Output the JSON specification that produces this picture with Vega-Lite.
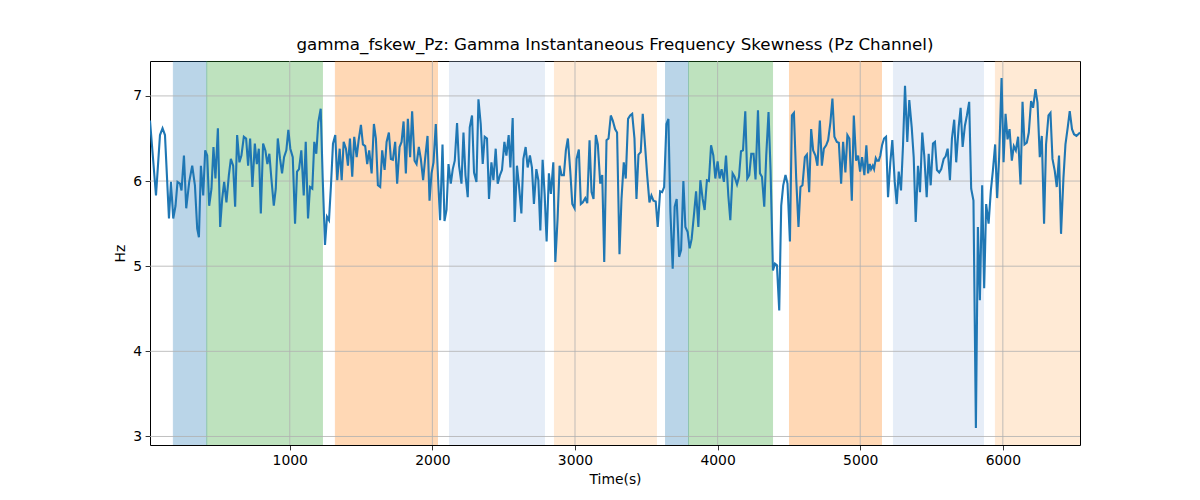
{
  "$schema": "https://vega.github.io/schema/vega-lite/v6.json",
  "width": 930,
  "height": 384,
  "autosize": {"type": "none"},
  "padding": {"left": 150, "top": 61, "right": 120, "bottom": 55},
  "background": "white",
  "title": {
    "text": "gamma_fskew_Pz: Gamma Instantaneous Frequency Skewness (Pz Channel)",
    "fontSize": 16.7,
    "fontWeight": "normal",
    "color": "black",
    "offset": 7
  },
  "config": {
    "font": "DejaVu Sans",
    "view": {"stroke": "black", "strokeWidth": 1},
    "axis": {
      "domain": false,
      "grid": false,
      "tickColor": "black",
      "tickSize": 4.9,
      "tickWidth": 0.8,
      "labelColor": "black",
      "labelFontSize": 13.9,
      "labelPadding": 3.5,
      "titleColor": "black",
      "titleFontSize": 13.9,
      "titleFontWeight": "normal",
      "titlePadding": 5
    }
  },
  "datasets": {
    "bands": [
      {"start": 184, "end": 418, "kind": "A"},
      {"start": 418, "end": 1229, "kind": "B"},
      {"start": 1320, "end": 2036, "kind": "C"},
      {"start": 2120, "end": 2786, "kind": "D"},
      {"start": 2856, "end": 3571, "kind": "E"},
      {"start": 3635, "end": 3796, "kind": "A"},
      {"start": 3796, "end": 4385, "kind": "B"},
      {"start": 4504, "end": 5149, "kind": "C"},
      {"start": 5233, "end": 5864, "kind": "D"},
      {"start": 5948, "end": 6541, "kind": "E"}
    ],
    "xgrid": [{"g": 1000}, {"g": 2000}, {"g": 3000}, {"g": 4000}, {"g": 5000}, {"g": 6000}],
    "ygrid": [{"g": 3}, {"g": 4}, {"g": 5}, {"g": 6}, {"g": 7}],
    "signal": [
      {"t": 20, "hz": 6.71}, {"t": 62, "hz": 5.83}, {"t": 90, "hz": 6.54}, {"t": 108, "hz": 6.62},
      {"t": 125, "hz": 6.54}, {"t": 153, "hz": 5.56}, {"t": 167, "hz": 5.99}, {"t": 183, "hz": 5.56},
      {"t": 199, "hz": 5.71}, {"t": 213, "hz": 5.99}, {"t": 230, "hz": 5.97}, {"t": 241, "hz": 5.89},
      {"t": 258, "hz": 6.30}, {"t": 274, "hz": 5.68}, {"t": 295, "hz": 5.99}, {"t": 316, "hz": 6.18},
      {"t": 335, "hz": 5.95}, {"t": 351, "hz": 5.44}, {"t": 363, "hz": 5.34}, {"t": 377, "hz": 6.18},
      {"t": 393, "hz": 5.83}, {"t": 407, "hz": 6.36}, {"t": 421, "hz": 6.30}, {"t": 435, "hz": 5.71},
      {"t": 451, "hz": 5.91}, {"t": 465, "hz": 6.40}, {"t": 479, "hz": 6.03}, {"t": 496, "hz": 6.62},
      {"t": 512, "hz": 5.46}, {"t": 526, "hz": 5.79}, {"t": 540, "hz": 5.99}, {"t": 556, "hz": 5.75},
      {"t": 573, "hz": 6.07}, {"t": 587, "hz": 6.26}, {"t": 603, "hz": 6.18}, {"t": 617, "hz": 5.70},
      {"t": 631, "hz": 6.54}, {"t": 647, "hz": 6.22}, {"t": 661, "hz": 6.30}, {"t": 678, "hz": 6.52},
      {"t": 694, "hz": 6.50}, {"t": 708, "hz": 6.18}, {"t": 722, "hz": 6.50}, {"t": 738, "hz": 5.93},
      {"t": 755, "hz": 6.44}, {"t": 769, "hz": 6.20}, {"t": 783, "hz": 6.38}, {"t": 797, "hz": 5.62},
      {"t": 813, "hz": 6.44}, {"t": 829, "hz": 6.36}, {"t": 843, "hz": 6.20}, {"t": 857, "hz": 6.32},
      {"t": 871, "hz": 6.03}, {"t": 888, "hz": 5.71}, {"t": 902, "hz": 5.91}, {"t": 916, "hz": 6.50},
      {"t": 932, "hz": 6.26}, {"t": 946, "hz": 6.09}, {"t": 960, "hz": 6.28}, {"t": 976, "hz": 6.36},
      {"t": 990, "hz": 6.60}, {"t": 1004, "hz": 6.38}, {"t": 1021, "hz": 6.28}, {"t": 1037, "hz": 5.50},
      {"t": 1051, "hz": 6.11}, {"t": 1065, "hz": 6.14}, {"t": 1081, "hz": 6.36}, {"t": 1098, "hz": 5.83},
      {"t": 1112, "hz": 6.46}, {"t": 1128, "hz": 5.56}, {"t": 1142, "hz": 5.93}, {"t": 1158, "hz": 5.91},
      {"t": 1172, "hz": 6.46}, {"t": 1186, "hz": 6.32}, {"t": 1200, "hz": 6.69}, {"t": 1217, "hz": 6.85},
      {"t": 1231, "hz": 6.03}, {"t": 1247, "hz": 5.25}, {"t": 1261, "hz": 5.58}, {"t": 1275, "hz": 5.54},
      {"t": 1289, "hz": 5.95}, {"t": 1303, "hz": 6.44}, {"t": 1319, "hz": 6.54}, {"t": 1333, "hz": 6.01},
      {"t": 1350, "hz": 6.38}, {"t": 1364, "hz": 6.01}, {"t": 1378, "hz": 6.46}, {"t": 1394, "hz": 6.38},
      {"t": 1408, "hz": 6.18}, {"t": 1422, "hz": 6.50}, {"t": 1438, "hz": 6.05}, {"t": 1452, "hz": 6.52},
      {"t": 1469, "hz": 6.28}, {"t": 1483, "hz": 6.48}, {"t": 1499, "hz": 6.66}, {"t": 1513, "hz": 6.43},
      {"t": 1529, "hz": 6.41}, {"t": 1543, "hz": 6.20}, {"t": 1557, "hz": 6.36}, {"t": 1574, "hz": 6.09},
      {"t": 1590, "hz": 6.67}, {"t": 1604, "hz": 6.50}, {"t": 1618, "hz": 5.95}, {"t": 1634, "hz": 5.93},
      {"t": 1648, "hz": 6.36}, {"t": 1665, "hz": 6.13}, {"t": 1679, "hz": 6.46}, {"t": 1695, "hz": 6.57},
      {"t": 1709, "hz": 6.26}, {"t": 1723, "hz": 6.25}, {"t": 1739, "hz": 6.46}, {"t": 1753, "hz": 5.97},
      {"t": 1770, "hz": 6.40}, {"t": 1784, "hz": 6.46}, {"t": 1798, "hz": 6.70}, {"t": 1814, "hz": 6.09},
      {"t": 1828, "hz": 6.73}, {"t": 1844, "hz": 6.28}, {"t": 1858, "hz": 6.82}, {"t": 1875, "hz": 6.24},
      {"t": 1889, "hz": 6.20}, {"t": 1905, "hz": 6.40}, {"t": 1919, "hz": 6.26}, {"t": 1935, "hz": 6.01},
      {"t": 1949, "hz": 6.26}, {"t": 1966, "hz": 6.53}, {"t": 1980, "hz": 5.77}, {"t": 1994, "hz": 6.09},
      {"t": 2008, "hz": 6.22}, {"t": 2024, "hz": 6.67}, {"t": 2040, "hz": 6.03}, {"t": 2054, "hz": 5.54},
      {"t": 2071, "hz": 6.43}, {"t": 2085, "hz": 5.53}, {"t": 2099, "hz": 5.66}, {"t": 2113, "hz": 6.20},
      {"t": 2129, "hz": 5.97}, {"t": 2143, "hz": 6.14}, {"t": 2157, "hz": 6.24}, {"t": 2173, "hz": 6.68},
      {"t": 2187, "hz": 6.18}, {"t": 2204, "hz": 5.97}, {"t": 2218, "hz": 6.57}, {"t": 2232, "hz": 6.07},
      {"t": 2248, "hz": 5.81}, {"t": 2262, "hz": 6.63}, {"t": 2278, "hz": 6.77}, {"t": 2292, "hz": 6.10},
      {"t": 2309, "hz": 5.99}, {"t": 2323, "hz": 6.96}, {"t": 2339, "hz": 6.67}, {"t": 2353, "hz": 6.20},
      {"t": 2367, "hz": 6.52}, {"t": 2383, "hz": 6.50}, {"t": 2397, "hz": 5.79}, {"t": 2414, "hz": 6.22},
      {"t": 2428, "hz": 6.01}, {"t": 2444, "hz": 6.38}, {"t": 2458, "hz": 5.97}, {"t": 2474, "hz": 6.07},
      {"t": 2488, "hz": 6.13}, {"t": 2505, "hz": 6.46}, {"t": 2519, "hz": 6.30}, {"t": 2535, "hz": 6.54},
      {"t": 2547, "hz": 6.16}, {"t": 2563, "hz": 6.74}, {"t": 2577, "hz": 5.52}, {"t": 2593, "hz": 6.18},
      {"t": 2607, "hz": 5.95}, {"t": 2624, "hz": 5.62}, {"t": 2638, "hz": 6.26}, {"t": 2654, "hz": 6.40},
      {"t": 2668, "hz": 6.16}, {"t": 2684, "hz": 6.30}, {"t": 2698, "hz": 6.16}, {"t": 2712, "hz": 5.73},
      {"t": 2729, "hz": 6.14}, {"t": 2743, "hz": 6.01}, {"t": 2757, "hz": 5.42}, {"t": 2773, "hz": 6.25},
      {"t": 2787, "hz": 5.85}, {"t": 2801, "hz": 5.29}, {"t": 2817, "hz": 6.09}, {"t": 2831, "hz": 5.85},
      {"t": 2848, "hz": 6.22}, {"t": 2862, "hz": 5.05}, {"t": 2878, "hz": 5.56}, {"t": 2892, "hz": 6.18},
      {"t": 2906, "hz": 6.07}, {"t": 2922, "hz": 6.07}, {"t": 2936, "hz": 6.36}, {"t": 2950, "hz": 6.50},
      {"t": 2967, "hz": 6.11}, {"t": 2981, "hz": 5.73}, {"t": 2997, "hz": 5.68}, {"t": 3011, "hz": 6.26},
      {"t": 3027, "hz": 6.37}, {"t": 3041, "hz": 5.73}, {"t": 3055, "hz": 5.75}, {"t": 3072, "hz": 5.80},
      {"t": 3086, "hz": 5.74}, {"t": 3102, "hz": 6.48}, {"t": 3116, "hz": 5.87}, {"t": 3130, "hz": 5.79},
      {"t": 3146, "hz": 6.54}, {"t": 3160, "hz": 6.43}, {"t": 3177, "hz": 5.97}, {"t": 3191, "hz": 6.07},
      {"t": 3205, "hz": 5.05}, {"t": 3221, "hz": 6.48}, {"t": 3235, "hz": 6.50}, {"t": 3251, "hz": 6.77},
      {"t": 3265, "hz": 6.71}, {"t": 3281, "hz": 6.61}, {"t": 3295, "hz": 6.57}, {"t": 3312, "hz": 5.14},
      {"t": 3326, "hz": 5.79}, {"t": 3342, "hz": 6.22}, {"t": 3356, "hz": 6.03}, {"t": 3372, "hz": 6.73},
      {"t": 3387, "hz": 6.77}, {"t": 3401, "hz": 6.79}, {"t": 3417, "hz": 6.50}, {"t": 3431, "hz": 5.79},
      {"t": 3445, "hz": 6.31}, {"t": 3461, "hz": 6.34}, {"t": 3475, "hz": 6.79}, {"t": 3492, "hz": 6.40},
      {"t": 3506, "hz": 6.07}, {"t": 3522, "hz": 5.75}, {"t": 3536, "hz": 5.83}, {"t": 3550, "hz": 5.77},
      {"t": 3566, "hz": 5.76}, {"t": 3580, "hz": 5.46}, {"t": 3597, "hz": 5.88}, {"t": 3611, "hz": 5.87},
      {"t": 3625, "hz": 5.93}, {"t": 3641, "hz": 6.67}, {"t": 3655, "hz": 6.73}, {"t": 3669, "hz": 5.64},
      {"t": 3685, "hz": 4.97}, {"t": 3699, "hz": 5.70}, {"t": 3713, "hz": 5.79}, {"t": 3730, "hz": 5.11},
      {"t": 3744, "hz": 5.19}, {"t": 3760, "hz": 6.00}, {"t": 3774, "hz": 5.46}, {"t": 3790, "hz": 5.40},
      {"t": 3804, "hz": 5.21}, {"t": 3818, "hz": 5.32}, {"t": 3835, "hz": 5.62}, {"t": 3849, "hz": 5.88},
      {"t": 3865, "hz": 5.46}, {"t": 3879, "hz": 6.01}, {"t": 3895, "hz": 5.79}, {"t": 3909, "hz": 5.66},
      {"t": 3925, "hz": 6.01}, {"t": 3939, "hz": 6.00}, {"t": 3954, "hz": 6.42}, {"t": 3970, "hz": 6.30},
      {"t": 3984, "hz": 6.03}, {"t": 4000, "hz": 6.23}, {"t": 4014, "hz": 6.03}, {"t": 4028, "hz": 6.14},
      {"t": 4044, "hz": 5.99}, {"t": 4059, "hz": 6.30}, {"t": 4075, "hz": 5.83}, {"t": 4089, "hz": 5.54},
      {"t": 4105, "hz": 6.09}, {"t": 4119, "hz": 6.05}, {"t": 4136, "hz": 5.96}, {"t": 4150, "hz": 6.05},
      {"t": 4164, "hz": 6.35}, {"t": 4178, "hz": 6.36}, {"t": 4194, "hz": 6.82}, {"t": 4208, "hz": 6.03},
      {"t": 4222, "hz": 6.07}, {"t": 4236, "hz": 6.32}, {"t": 4252, "hz": 6.32}, {"t": 4266, "hz": 6.02},
      {"t": 4283, "hz": 6.83}, {"t": 4297, "hz": 6.09}, {"t": 4311, "hz": 6.05}, {"t": 4327, "hz": 5.70},
      {"t": 4341, "hz": 6.30}, {"t": 4357, "hz": 6.81}, {"t": 4371, "hz": 6.14}, {"t": 4388, "hz": 4.95},
      {"t": 4402, "hz": 5.03}, {"t": 4416, "hz": 5.01}, {"t": 4432, "hz": 4.48}, {"t": 4446, "hz": 5.71},
      {"t": 4460, "hz": 5.95}, {"t": 4476, "hz": 6.07}, {"t": 4490, "hz": 5.97}, {"t": 4507, "hz": 5.29},
      {"t": 4521, "hz": 6.77}, {"t": 4535, "hz": 6.80}, {"t": 4551, "hz": 6.03}, {"t": 4567, "hz": 5.46},
      {"t": 4581, "hz": 5.93}, {"t": 4595, "hz": 5.95}, {"t": 4612, "hz": 6.28}, {"t": 4626, "hz": 6.31},
      {"t": 4642, "hz": 5.87}, {"t": 4656, "hz": 6.61}, {"t": 4670, "hz": 6.36}, {"t": 4686, "hz": 6.30},
      {"t": 4700, "hz": 6.18}, {"t": 4717, "hz": 6.71}, {"t": 4731, "hz": 6.18}, {"t": 4745, "hz": 6.38},
      {"t": 4761, "hz": 6.42}, {"t": 4775, "hz": 6.48}, {"t": 4791, "hz": 6.69}, {"t": 4805, "hz": 6.97},
      {"t": 4819, "hz": 6.52}, {"t": 4836, "hz": 6.46}, {"t": 4850, "hz": 6.45}, {"t": 4866, "hz": 5.97},
      {"t": 4880, "hz": 6.46}, {"t": 4896, "hz": 6.10}, {"t": 4910, "hz": 6.54}, {"t": 4924, "hz": 6.50},
      {"t": 4941, "hz": 5.77}, {"t": 4955, "hz": 6.77}, {"t": 4971, "hz": 6.24}, {"t": 4985, "hz": 6.30},
      {"t": 4999, "hz": 6.11}, {"t": 5013, "hz": 6.28}, {"t": 5029, "hz": 6.07}, {"t": 5043, "hz": 6.42},
      {"t": 5055, "hz": 6.09}, {"t": 5067, "hz": 6.20}, {"t": 5076, "hz": 6.14}, {"t": 5088, "hz": 6.18},
      {"t": 5097, "hz": 6.14}, {"t": 5109, "hz": 6.27}, {"t": 5118, "hz": 6.24}, {"t": 5130, "hz": 6.24},
      {"t": 5141, "hz": 6.30}, {"t": 5153, "hz": 6.42}, {"t": 5167, "hz": 6.50}, {"t": 5181, "hz": 6.52},
      {"t": 5195, "hz": 5.81}, {"t": 5211, "hz": 6.22}, {"t": 5225, "hz": 6.48}, {"t": 5242, "hz": 5.99},
      {"t": 5256, "hz": 5.73}, {"t": 5270, "hz": 6.11}, {"t": 5286, "hz": 5.89}, {"t": 5300, "hz": 6.42},
      {"t": 5314, "hz": 7.12}, {"t": 5330, "hz": 6.46}, {"t": 5344, "hz": 6.95}, {"t": 5361, "hz": 6.63},
      {"t": 5375, "hz": 6.28}, {"t": 5389, "hz": 5.52}, {"t": 5405, "hz": 6.18}, {"t": 5419, "hz": 5.87},
      {"t": 5435, "hz": 6.57}, {"t": 5449, "hz": 6.30}, {"t": 5466, "hz": 5.81}, {"t": 5480, "hz": 6.32},
      {"t": 5494, "hz": 5.95}, {"t": 5510, "hz": 6.44}, {"t": 5524, "hz": 6.46}, {"t": 5538, "hz": 6.13},
      {"t": 5554, "hz": 6.10}, {"t": 5568, "hz": 6.14}, {"t": 5585, "hz": 6.26}, {"t": 5599, "hz": 6.29},
      {"t": 5613, "hz": 6.38}, {"t": 5629, "hz": 6.01}, {"t": 5643, "hz": 6.50}, {"t": 5659, "hz": 6.72},
      {"t": 5673, "hz": 6.22}, {"t": 5690, "hz": 6.63}, {"t": 5704, "hz": 6.86}, {"t": 5718, "hz": 6.40},
      {"t": 5734, "hz": 6.65}, {"t": 5748, "hz": 6.77}, {"t": 5764, "hz": 6.93}, {"t": 5778, "hz": 5.91},
      {"t": 5794, "hz": 5.77}, {"t": 5811, "hz": 3.10}, {"t": 5825, "hz": 5.46}, {"t": 5839, "hz": 4.60},
      {"t": 5855, "hz": 5.95}, {"t": 5869, "hz": 4.74}, {"t": 5883, "hz": 5.73}, {"t": 5900, "hz": 5.50},
      {"t": 5916, "hz": 5.89}, {"t": 5930, "hz": 6.12}, {"t": 5946, "hz": 6.43}, {"t": 5960, "hz": 5.80},
      {"t": 5974, "hz": 6.28}, {"t": 5991, "hz": 7.21}, {"t": 6005, "hz": 6.22}, {"t": 6019, "hz": 6.79},
      {"t": 6033, "hz": 6.49}, {"t": 6047, "hz": 6.61}, {"t": 6063, "hz": 6.24}, {"t": 6077, "hz": 6.41},
      {"t": 6091, "hz": 6.36}, {"t": 6107, "hz": 6.52}, {"t": 6124, "hz": 5.96}, {"t": 6138, "hz": 6.93},
      {"t": 6152, "hz": 6.43}, {"t": 6168, "hz": 6.45}, {"t": 6182, "hz": 6.57}, {"t": 6198, "hz": 6.94},
      {"t": 6212, "hz": 6.86}, {"t": 6229, "hz": 7.08}, {"t": 6243, "hz": 6.92}, {"t": 6259, "hz": 6.28},
      {"t": 6273, "hz": 6.53}, {"t": 6289, "hz": 5.50}, {"t": 6303, "hz": 6.43}, {"t": 6320, "hz": 6.77},
      {"t": 6334, "hz": 6.80}, {"t": 6348, "hz": 6.26}, {"t": 6364, "hz": 6.12}, {"t": 6378, "hz": 5.93},
      {"t": 6394, "hz": 6.30}, {"t": 6408, "hz": 5.38}, {"t": 6425, "hz": 6.04}, {"t": 6439, "hz": 6.43},
      {"t": 6455, "hz": 6.63}, {"t": 6469, "hz": 6.82}, {"t": 6485, "hz": 6.61}, {"t": 6499, "hz": 6.55},
      {"t": 6516, "hz": 6.53}, {"t": 6541, "hz": 6.57}
    ]
  },
  "layer": [
    {
      "data": {"name": "bands"},
      "mark": {"type": "rect", "opacity": 0.3, "strokeWidth": 1, "clip": true},
      "encoding": {
        "x": {
          "field": "start",
          "type": "quantitative",
          "scale": {"domain": [20, 6541], "nice": false, "zero": false},
          "axis": {"values": [1000, 2000, 3000, 4000, 5000, 6000], "format": "d", "title": "Time(s)"}
        },
        "x2": {"field": "end"},
        "color": {
          "field": "kind",
          "type": "nominal",
          "scale": {"domain": ["A", "B", "C", "D", "E"], "range": ["#1f77b4", "#2ca02c", "#ff7f0e", "#aec7e8", "#ffbb78"]},
          "legend": null
        },
        "stroke": {
          "field": "kind",
          "type": "nominal",
          "scale": {"domain": ["A", "B", "C", "D", "E"], "range": ["#1f77b4", "#2ca02c", "#ff7f0e", "#aec7e8", "#ffbb78"]},
          "legend": null
        }
      }
    },
    {
      "data": {"name": "xgrid"},
      "mark": {"type": "rule", "color": "#b0b0b0", "strokeWidth": 0.8},
      "encoding": {"x": {"field": "g", "type": "quantitative"}}
    },
    {
      "data": {"name": "ygrid"},
      "mark": {"type": "rule", "color": "#b0b0b0", "strokeWidth": 0.8},
      "encoding": {"y": {"field": "g", "type": "quantitative"}}
    },
    {
      "data": {"name": "signal"},
      "mark": {"type": "line", "color": "#1f77b4", "strokeWidth": 2.1, "clip": true},
      "encoding": {
        "x": {"field": "t", "type": "quantitative"},
        "y": {
          "field": "hz",
          "type": "quantitative",
          "scale": {"domain": [2.9, 7.41], "nice": false, "zero": false},
          "axis": {"values": [3, 4, 5, 6, 7], "format": "d", "title": "Hz"}
        }
      }
    }
  ]
}
